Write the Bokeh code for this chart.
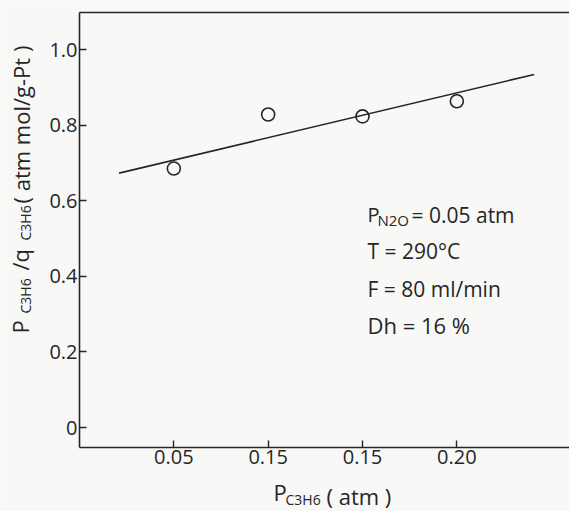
import math
from bokeh.plotting import figure
from bokeh.models import Range1d, FixedTicker, Label, LinearAxis
from bokeh.embed import file_html
from bokeh.resources import INLINE

# ---- data ----
p_c3h6 = [0.05, 0.10, 0.15, 0.20]
ratio = [0.685, 0.828, 0.823, 0.863]
fit_x = [0.021, 0.241]
fit_y = [0.673, 0.934]
x_ticks = [0.05, 0.10, 0.15, 0.20]
x_tick_labels = ["0.05", "0.15", "0.15", "0.20"]
y_ticks = [0.0, 0.2, 0.4, 0.6, 0.8, 1.0]
y_tick_labels = ["0", "0.2", "0.4", "0.6", "0.8", "1.0"]

# ---- layout (frame covers the whole canvas; axes sit at fixed places) ----
W, H = 569, 511
PX0, PXU = 79.0, 1886.7      # pixel of x=0, pixels per x unit
PY0, PYU = 427.0, 378.0      # pixel of y=0, pixels per y unit
X0, X1 = -PX0 / PXU, (W - PX0) / PXU
Y0, Y1 = -(H - PY0) / PYU, PY0 / PYU
XL, XR = 0.0, X1              # x extent of the plot box
YB, YT = -(447 - PY0) / PYU, (PY0 - 12) / PYU  # y extent of the plot box
INK = "#262626"
FONT = "Open Sans"
BG = "#f8f8f6"
SHIFT = 8  # baseline correction for labels


def fx(px):
    return (px - PX0) / PXU


def fy(py):
    return (PY0 - py) / PYU


p = figure(width=W, height=H, output_backend="svg", toolbar_location=None,
           x_range=Range1d(X0, X1), y_range=Range1d(Y0, Y1),
           x_axis_location=None, y_axis_location=None,
           min_border=0)
p.background_fill_color = BG
p.border_fill_color = BG
p.outline_line_color = None
p.grid.visible = False


def style(ax):
    ax.axis_line_color = INK
    ax.axis_line_width = 1.6
    ax.major_tick_line_color = INK
    ax.major_tick_line_width = 1.4
    ax.major_tick_in = 7
    ax.major_tick_out = 0
    ax.minor_tick_line_color = None
    ax.major_label_text_font = FONT
    ax.major_label_text_font_size = "20px"
    ax.major_label_text_color = INK


xax = LinearAxis(fixed_location=YB, bounds=(XL, XR), ticker=FixedTicker(ticks=x_ticks))
style(xax)
xax.major_label_overrides = {t: s for t, s in zip(x_ticks, x_tick_labels)}
xax.major_label_standoff = 2
p.add_layout(xax, "below")

yax = LinearAxis(fixed_location=XL, bounds=(YB, YT), ticker=FixedTicker(ticks=y_ticks))
style(yax)
yax.major_label_overrides = {t: s for t, s in zip(y_ticks, y_tick_labels)}
yax.major_label_standoff = 2
p.add_layout(yax, "left")

top = LinearAxis(fixed_location=YT, bounds=(XL, XR), ticker=FixedTicker(ticks=[]))
top.axis_line_color = INK
top.axis_line_width = 1.6
top.major_tick_line_color = None
top.minor_tick_line_color = None
top.major_label_text_font_size = "0px"
p.add_layout(top, "above")

p.line(fit_x, fit_y, line_color=INK, line_width=1.6)
p.scatter(p_c3h6, ratio, marker="circle", size=13, fill_color=None,
          line_color=INK, line_width=1.6)


def lab(px, py, text, size, angle=0.0):
    if angle == 0.0:
        py -= SHIFT
    else:
        px -= SHIFT
    p.add_layout(Label(x=fx(px), y=fy(py), text=text, text_font=FONT,
                       text_font_size=f"{size}px", text_color=INK,
                       text_align="left", text_baseline="alphabetic", angle=angle))


# annotation block
lab(367, 222, "P", 20)
lab(377, 227, "N2O", 15)
lab(411, 222, "= 0.05  atm", 21)
lab(367, 258, "T = 290°C", 21)
lab(367, 296, "F = 80 ml/min", 21)
lab(367, 332, "Dh = 16 %", 22)

# x-axis label
lab(273, 499, "P", 22)
lab(285, 507, "C3H6", 14)
lab(326, 503, "( atm )", 22)

# y-axis label (rotated)
A = math.pi / 2
lab(27, 333, "P", 22, A)
lab(33, 313, "C3H6", 14, A)
lab(27, 270, "/q", 22, A)
lab(33, 240, "C3H6", 14, A)
lab(28, 203, "( atm mol/g-Pt )", 22, A)

open("out.html", "w").write(file_html(p, INLINE))
